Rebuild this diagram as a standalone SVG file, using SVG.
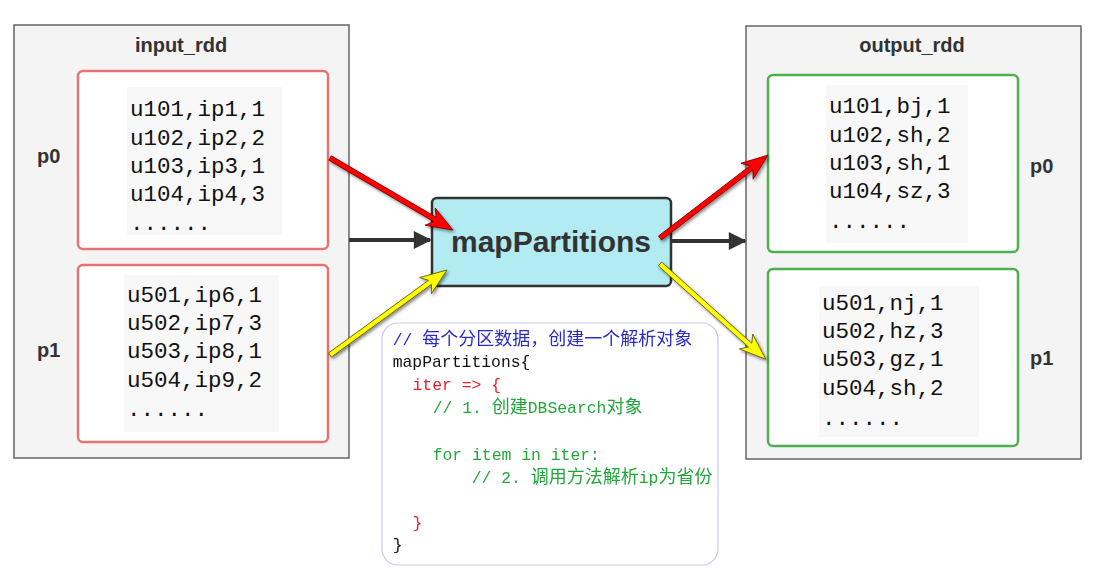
<svg xmlns="http://www.w3.org/2000/svg" width="1102" height="580" viewBox="0 0 1102 580">
<style>
.rdd{fill:#f4f4f4;stroke:#666;stroke-width:1.5}
.title{font-family:"Liberation Sans",Arial,sans-serif;font-weight:bold;font-size:20px;fill:#333;text-anchor:middle}
.plabel{font-family:"Liberation Sans",Arial,sans-serif;font-weight:bold;font-size:20px;fill:#333}
.pin{fill:#fff;stroke:#e57373;stroke-width:2.5}
.pout{fill:#fff;stroke:#4caf50;stroke-width:2.5}
.bg{fill:#f8f8f8}
.data{font-family:"Liberation Mono","DejaVu Sans Mono",monospace;font-size:22.5px;fill:#111}
.code{font-family:"Liberation Mono","DejaVu Sans Mono",monospace;font-size:16.4px}
.cjk{font-family:"Noto Sans CJK SC",sans-serif;font-size:18px}
.blk{stroke:#333;stroke-width:4;fill:none}
.red{fill:#ff0000;stroke:#7a0000;stroke-width:0.8}
.yel{fill:#ffff00;stroke:#555500;stroke-width:0.8}
</style>
<defs>
<marker id="ah" viewBox="0 0 10 10" refX="9" refY="5" markerWidth="5" markerHeight="4.5" orient="auto" markerUnits="strokeWidth">
<path d="M0,0 L10,5 L0,10 z" fill="#333"/>
</marker>
<filter id="sh" x="-20%" y="-20%" width="140%" height="140%">
<feDropShadow dx="1.5" dy="2" stdDeviation="1.5" flood-color="#000" flood-opacity="0.45"/>
</filter>
</defs>

<g id="input_rdd">
<rect class="rdd" x="14" y="25" width="335" height="433"/>
<text class="title" x="181" y="52">input_rdd</text>
</g>
<g id="in_p0">
<text class="plabel" x="37" y="163">p0</text>
<rect class="pin" x="78" y="71" width="250" height="178" rx="5"/>
<rect class="bg" x="127" y="87" width="155" height="148"/>
<text class="data" x="130" y="116">u101,ip1,1</text>
<text class="data" x="130" y="145">u102,ip2,2</text>
<text class="data" x="130" y="173">u103,ip3,1</text>
<text class="data" x="130" y="201">u104,ip4,3</text>
<text class="data" x="130" y="230">......</text>
</g>
<g id="in_p1">
<text class="plabel" x="37" y="357">p1</text>
<rect class="pin" x="78" y="265" width="250" height="177" rx="5"/>
<rect class="bg" x="124" y="275" width="155" height="157"/>
<text class="data" x="127" y="302">u501,ip6,1</text>
<text class="data" x="127" y="330">u502,ip7,3</text>
<text class="data" x="127" y="358">u503,ip8,1</text>
<text class="data" x="127" y="387">u504,ip9,2</text>
<text class="data" x="127" y="416">......</text>
</g>

<g id="output_rdd">
<rect class="rdd" x="746" y="26" width="335" height="433"/>
<text class="title" x="912" y="52">output_rdd</text>
</g>
<g id="out_p0">
<rect class="pout" x="768" y="75" width="250" height="177" rx="5"/>
<rect class="bg" x="826" y="85" width="142" height="158"/>
<text class="data" x="829" y="113">u101,bj,1</text>
<text class="data" x="829" y="142">u102,sh,2</text>
<text class="data" x="829" y="170">u103,sh,1</text>
<text class="data" x="829" y="198">u104,sz,3</text>
<text class="data" x="829" y="228">......</text>
<text class="plabel" x="1030" y="173">p0</text>
</g>
<g id="out_p1">
<rect class="pout" x="768" y="269" width="250" height="177" rx="5"/>
<rect class="bg" x="819" y="286" width="160" height="151"/>
<text class="data" x="822" y="310">u501,nj,1</text>
<text class="data" x="822" y="338">u502,hz,3</text>
<text class="data" x="822" y="366">u503,gz,1</text>
<text class="data" x="822" y="395">u504,sh,2</text>
<text class="data" x="822" y="425">......</text>
<text class="plabel" x="1030" y="365">p1</text>
</g>

<g id="mapPartitions">
<rect x="432" y="198" width="239" height="88" rx="5" fill="#b2ebf2" stroke="#333" stroke-width="2.5"/>
<text x="551" y="252" font-family="Liberation Sans,Arial,sans-serif" font-weight="bold" font-size="30" fill="#333" text-anchor="middle">mapPartitions</text>
</g>

<g id="connectors">
<line class="blk" x1="349" y1="240" x2="430" y2="240" marker-end="url(#ah)"/>
<line class="blk" x1="671" y1="241" x2="745" y2="241" marker-end="url(#ah)"/>
<g filter="url(#sh)">
<path class="red" transform="translate(330,158) rotate(30.35)" d="M0,-2.5 L121.5,-2.5 L116,-10 L142.5,0 L116,10 L121.5,2.5 L0,2.5 Z"/>
<path class="yel" transform="translate(330,355) rotate(-36)" d="M0,-2.5 L123.6,-2.5 L118,-10 L144.6,0 L118,10 L123.6,2.5 L0,2.5 Z"/>
<path class="red" transform="translate(660,238) rotate(-37.5)" d="M0,-2.5 L115.2,-2.5 L109.7,-10 L136.2,0 L109.7,10 L115.2,2.5 L0,2.5 Z"/>
<path class="yel" transform="translate(660,264) rotate(42)" d="M0,-2.5 L121.3,-2.5 L115.8,-10 L142.3,0 L115.8,10 L121.3,2.5 L0,2.5 Z"/>
</g>
</g>

<g id="code">
<rect x="382" y="323" width="336" height="242" rx="16" fill="#fff" stroke="#c8c8ee" stroke-width="1.2"/>
<text class="code" x="392.7" y="345" fill="#2b2bc8">// <tspan class="cjk">每个分区数据，创建一个解析对象</tspan></text>
<text class="code" x="392.7" y="367" fill="#111">mapPartitions{</text>
<text class="code" x="412.5" y="390" fill="#e8202a">iter =&gt; {</text>
<text class="code" x="432.7" y="413" fill="#22a83a">// 1. <tspan class="cjk">创建</tspan>DBSearch<tspan class="cjk">对象</tspan></text>
<text class="code" x="432.7" y="460" fill="#22a83a">for item in iter:</text>
<text class="code" x="471.7" y="483" fill="#22a83a">// 2. <tspan class="cjk">调用方法解析</tspan>ip<tspan class="cjk">为省份</tspan></text>
<text class="code" x="412.5" y="528" fill="#e8202a">}</text>
<text class="code" x="392.7" y="550" fill="#111">}</text>
</g>
</svg>
